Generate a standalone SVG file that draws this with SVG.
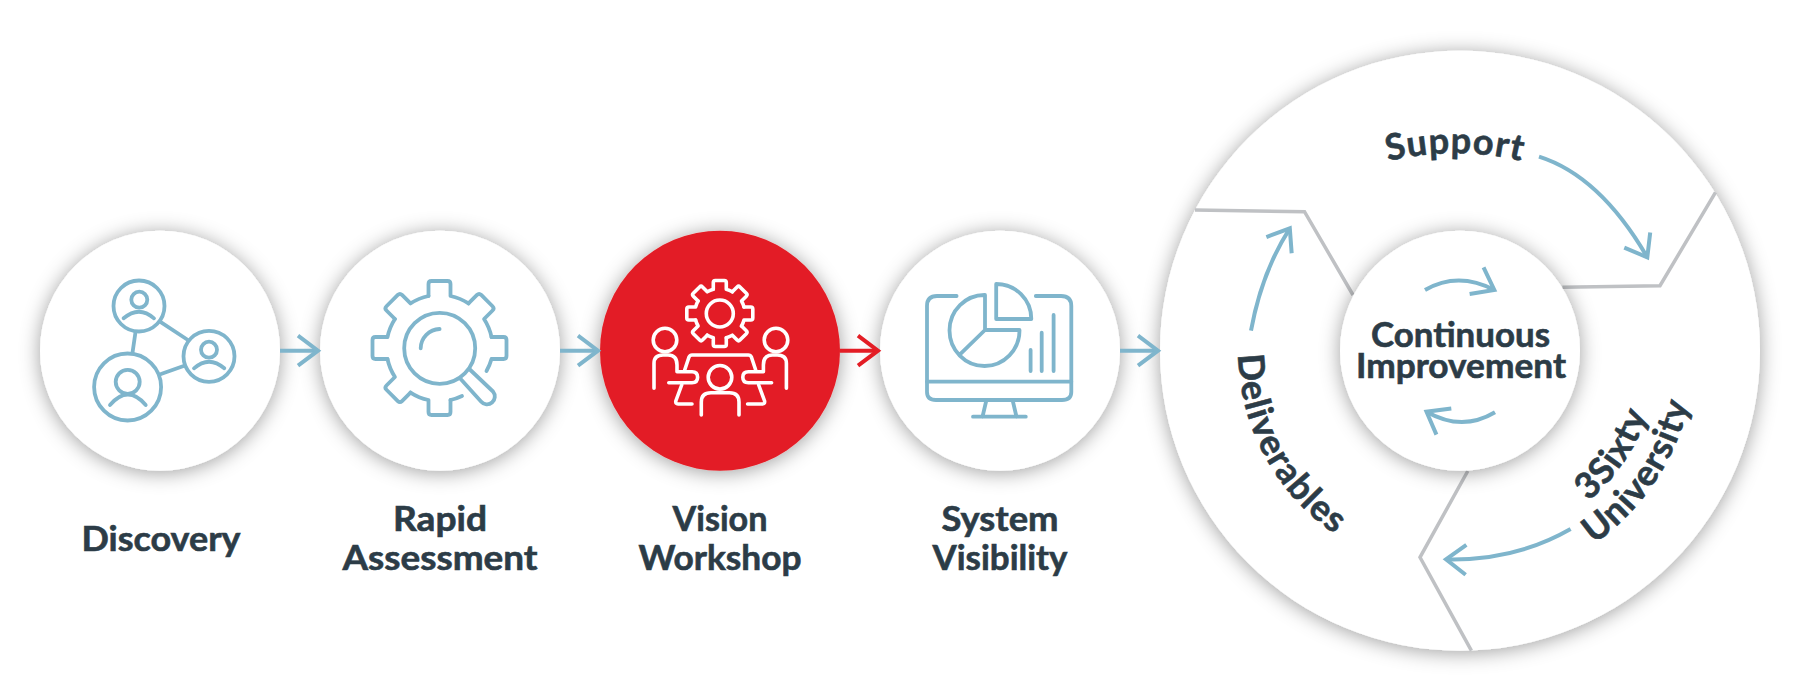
<svg xmlns="http://www.w3.org/2000/svg" xmlns:xlink="http://www.w3.org/1999/xlink" width="1800" height="700" viewBox="0 0 1800 700">
<style>
.disc{fill:#fff;filter:url(#sh)}
.red{fill:#e31d25;filter:url(#sh)}
.ic{fill:none;stroke:#7fb5cc;stroke-width:3.8;stroke-linecap:round;stroke-linejoin:round}
.icw{fill:none;stroke:#fff;stroke-width:3.6;stroke-linecap:round;stroke-linejoin:round}
.lb{font-family:"Lato","Liberation Sans",sans-serif;font-weight:700;font-size:34px;fill:#2c3c47;stroke:#2c3c47;stroke-width:.6;text-anchor:middle}
.arc{font-size:36px}
.con{fill:none;stroke:#7fb5cc;stroke-width:4;marker-end:url(#hb)}
.conr{fill:none;stroke:#e31d25;stroke-width:4;marker-end:url(#hr)}
.sep{fill:none;stroke:#bfc1c4;stroke-width:3.5;stroke-linejoin:miter}
</style>
<defs>
<filter id="sh" x="-25%" y="-25%" width="150%" height="150%"><feDropShadow dx="0" dy="2" stdDeviation="10" flood-color="#000" flood-opacity="0.38"/></filter>
<marker id="hb" markerUnits="userSpaceOnUse" markerWidth="60" markerHeight="60" refX="30" refY="30" orient="auto"><path d="M10 15L30 30L10 45" fill="none" stroke="#7fb5cc" stroke-width="4"/></marker>
<marker id="hr" markerUnits="userSpaceOnUse" markerWidth="60" markerHeight="60" refX="30" refY="30" orient="auto"><path d="M10 15L30 30L10 45" fill="none" stroke="#e31d25" stroke-width="4"/></marker>
<path id="gt" d="M52 -11H64Q67 -11 67 -8V8Q67 11 64 11H52A53.15 53.15 0 0 1 44.55 29"/>
<path id="gs" d="M24.2 -6.5H31Q33 -6.5 33 -4.5V4.5Q33 6.5 31 6.5H24.2A25 25 0 0 1 21.7 12.53"/>
<path id="p-sup" d="M1365 168A280 280 0 0 1 1545 168"/>
<path id="p-del" d="M1253.5 269.3A222 222 0 0 0 1415.7 568.2"/>
<path id="p-uni" d="M1563 562A235 235 0 0 0 1694.4 367.1"/>
<path id="p-3s" d="M1546.8 528.7A198 198 0 0 0 1657.5 364.5"/>
</defs>
<rect width="1800" height="700" fill="#fff"/>

<g id="node-discovery">
<circle class="disc" cx="160" cy="350.7" r="120"/>
<g class="ic">
<circle cx="139" cy="306" r="25.5"/><circle cx="139.3" cy="299.7" r="8"/><path d="M123.6 318.3Q139 305 154 318.3"/>
<circle cx="209" cy="356.3" r="25.5"/><circle cx="209" cy="349.7" r="8"/><path d="M194 368.3Q209 355 224.3 368.3"/>
<circle cx="127.6" cy="387" r="33.5"/><circle cx="127.7" cy="381.8" r="12"/><path d="M110 405Q128 384 145.7 405"/>
<path d="M135.4 332.7L132.5 352.7M160 321.7L187.9 340M161 374L184.3 365.7"/>
</g>
<text class="lb" x="161" y="550.7" textLength="159" lengthAdjust="spacingAndGlyphs">Discovery</text>
</g>

<g id="node-rapid-assessment">
<circle class="disc" cx="440" cy="350.7" r="120"/>
<g class="ic">
<g transform="translate(439.5,348)">
<path d="M52 -11H64Q67 -11 67 -8V8Q67 11 64 11H52A53 53 0 0 1 47 23"/>
<path d="M22.5 48A53 53 0 0 1 11 52"/>
<use href="#gt" transform="rotate(90)"/><use href="#gt" transform="rotate(135)"/><use href="#gt" transform="rotate(180)"/><use href="#gt" transform="rotate(225)"/><use href="#gt" transform="rotate(270)"/><use href="#gt" transform="rotate(315)"/>
</g>
<circle cx="439.7" cy="348.3" r="35.5"/>
<path d="M420.7 348.3A19.5 19.5 0 0 1 439.6 329"/>
<path d="M460 378.3L481 401.5A7.5 7.5 0 0 0 493 391.5L469.3 369"/>
</g>
<text class="lb" x="440" y="530.7" textLength="94" lengthAdjust="spacingAndGlyphs">Rapid</text>
<text class="lb" x="440" y="570" textLength="195" lengthAdjust="spacingAndGlyphs">Assessment</text>
</g>

<g id="node-vision-workshop">
<circle class="red" cx="720" cy="350.7" r="120"/>
<g class="icw">
<g transform="translate(719.8,313.5)"><use href="#gs"/><use href="#gs" transform="rotate(45)"/><use href="#gs" transform="rotate(90)"/><use href="#gs" transform="rotate(135)"/><use href="#gs" transform="rotate(180)"/><use href="#gs" transform="rotate(225)"/><use href="#gs" transform="rotate(270)"/><use href="#gs" transform="rotate(315)"/><circle r="13.5"/></g>
<circle cx="665" cy="340" r="11.8"/><circle cx="776" cy="340" r="11.8"/><circle cx="720" cy="377.3" r="11.8"/>
<path d="M654 388.3V363.5Q654 355 663 355H668Q677 355 677 365V371.7H692Q697.6 371.7 697.6 377.2T692 382.7H668.8"/>
<path d="M786.4 388.3V363.5Q786.4 355 777.4 355H772.4Q763.4 355 763.4 365V371.7H748.4Q742.8 371.7 742.8 377.2T748.4 382.7H771.6"/>
<path d="M684.7 370L689 357Q690 355 692 355H748.4Q750.4 355 751.4 357L755.7 370"/>
<path d="M681.7 385L675.8 401Q675.4 404 678 404H692M758.7 385L764.6 401Q765 404 762.4 404H747.6"/>
<path d="M701.3 415V402Q701.3 392.7 711 392.7H729.5Q739 392.7 739 402V415"/>
</g>
<text class="lb" x="720" y="530.7" textLength="95" lengthAdjust="spacingAndGlyphs">Vision</text>
<text class="lb" x="720" y="570" textLength="163" lengthAdjust="spacingAndGlyphs">Workshop</text>
</g>

<g id="node-system-visibility">
<circle class="disc" cx="1000" cy="350.7" r="120"/>
<g class="ic">
<path d="M956.6 296H937Q927 296 927 306V392Q927 400 936 400H1062Q1071.3 400 1071.3 392V306Q1071.3 296 1061 296H1035.8"/>
<path d="M927 381.7H1071.3M986.2 401L982.5 416.7M1012.8 401L1016.5 416.7M973 416.7H1025.8"/>
<path d="M985 295V330H1019.5A35 35.5 0 1 1 985 295ZM985 330L961 353.3"/>
<path d="M996.2 284V319H1031.3A35 35 0 0 0 996.2 284Z"/>
<path d="M1030.6 350V371M1041.7 332.7V371M1053.6 315V371"/>
</g>
<text class="lb" x="1000" y="530.7" textLength="117" lengthAdjust="spacingAndGlyphs">System</text>
<text class="lb" x="1000" y="570" textLength="135" lengthAdjust="spacingAndGlyphs">Visibility</text>
</g>

<g id="node-cycle">
<circle class="disc" cx="1460" cy="350.7" r="300"/>
<path class="sep" d="M1195 210L1304.5 211.7L1353 295"/>
<path class="sep" d="M1715.5 192.3L1660 285.7L1562.4 287.3"/>
<path class="sep" d="M1467.8 471L1420 557.3L1471.4 650.7"/>
<text class="lb arc" style="letter-spacing:1px"><textPath href="#p-sup" startOffset="50%">Support</textPath></text>
<text class="lb arc" style="letter-spacing:1.2px"><textPath href="#p-del" startOffset="50%">Deliverables</textPath></text>
<text class="lb arc" style="letter-spacing:1px"><textPath href="#p-3s" startOffset="50%">3Sixty</textPath></text>
<text class="lb arc" style="letter-spacing:1px"><textPath href="#p-uni" startOffset="50%">University</textPath></text>
</g>

<g id="node-continuous-improvement">
<circle class="disc" cx="1460" cy="350.7" r="120"/>
<text class="lb" x="1460.5" y="346.7" textLength="179" lengthAdjust="spacingAndGlyphs">Continuous</text>
<text class="lb" x="1461" y="378" textLength="210" lengthAdjust="spacingAndGlyphs">Improvement</text>
</g>

<g id="connectors">
<path class="con" d="M280 350.7H318"/>
<path class="con" d="M560 350.7H598"/>
<path class="conr" d="M840 350.7H878"/>
<path class="con" d="M1120 350.7H1158"/>
<path class="con" d="M1539 156.7Q1600 176 1647.3 257.3"/>
<path class="con" d="M1251 330.7Q1261.6 272.4 1289.8 228.3"/>
<path class="con" d="M1570.6 529Q1515 561 1446 559.3"/>
<path class="con" d="M1425 290Q1458 271 1494.3 290"/>
<path class="con" d="M1495 412.3Q1462 432 1426.5 411.7"/>
</g>
</svg>
